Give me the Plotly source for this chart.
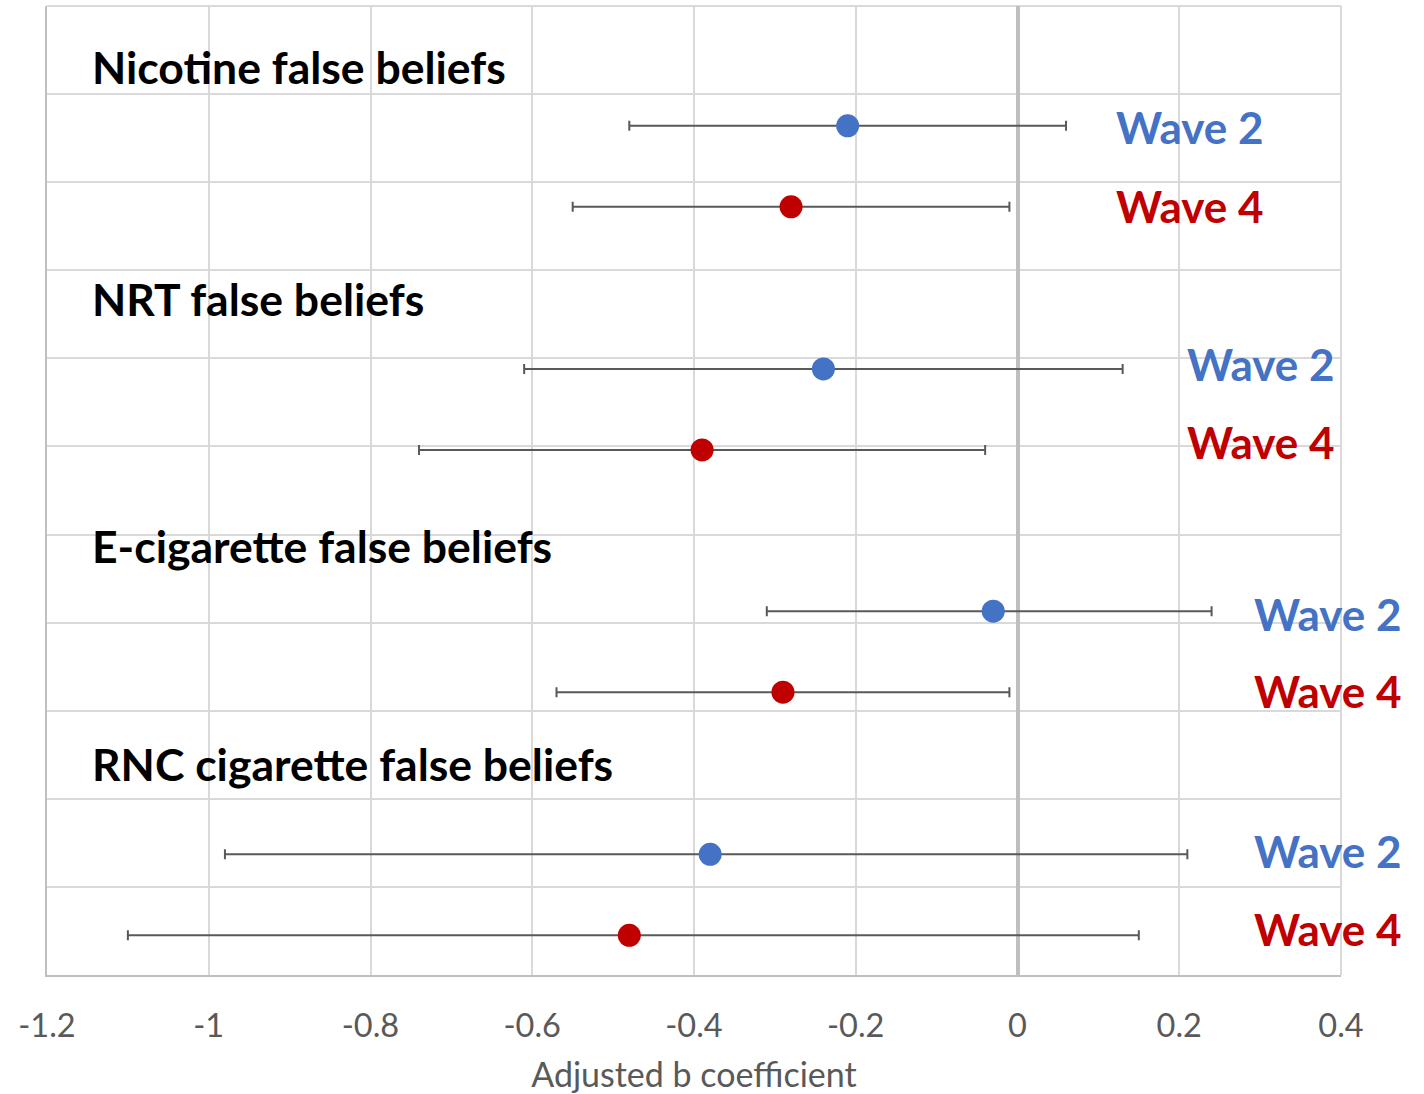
import plotly.graph_objects as go

# ---- data ----
categories = ["Nicotine false beliefs", "NRT false beliefs",
              "E-cigarette false beliefs", "RNC cigarette false beliefs"]
wave2_b = [-0.21, -0.24, -0.03, -0.38]
wave2_lo = [-0.48, -0.61, -0.31, -0.98]
wave2_hi = [0.06, 0.13, 0.24, 0.21]
wave4_b = [-0.28, -0.39, -0.29, -0.48]
wave4_lo = [-0.55, -0.74, -0.57, -1.10]
wave4_hi = [-0.01, -0.04, -0.01, 0.15]
wave2_y = [9.64, 6.88, 4.13, 1.37]
wave4_y = [8.72, 5.96, 3.21, 0.45]
cat_label_y = [10.31, 7.68, 4.88, 2.40]
wave_label_x = [0.119, 0.207, 0.290, 0.290]
wave2_label_y = [9.63, 6.94, 4.10, 1.41]
wave4_label_y = [8.73, 6.05, 3.22, 0.52]
x_ticks = [-1.2, -1, -0.8, -0.6, -0.4, -0.2, 0, 0.2, 0.4]
x_title = "Adjusted b coefficient"

BLUE = "#4472C4"
RED = "#C00000"
FONT = "Lato"

fig = go.Figure()

def add_series(b, lo, hi, y, color, name):
    fig.add_trace(go.Scatter(
        x=b, y=y, mode="markers", name=name,
        marker=dict(size=23, color=color),
        error_x=dict(type="data", symmetric=False,
                     array=[h - v for h, v in zip(hi, b)],
                     arrayminus=[v - l for l, v in zip(lo, b)],
                     color="#595959", thickness=2, width=5),
        cliponaxis=False,
        showlegend=False,
    ))

add_series(wave2_b, wave2_lo, wave2_hi, wave2_y, BLUE, "Wave 2")
add_series(wave4_b, wave4_lo, wave4_hi, wave4_y, RED, "Wave 4")

for name, yv in zip(categories, cat_label_y):
    fig.add_annotation(x=-1.147, y=yv, xref="x", yref="y", text=f"<b>{name}</b>",
                       showarrow=False, xanchor="left", yanchor="middle",
                       font=dict(family=FONT, size=44.5, color="black"))

for xv, y2, y4 in zip(wave_label_x, wave2_label_y, wave4_label_y):
    fig.add_annotation(x=xv, y=y2, xref="x", yref="y", text="<b>Wave 2</b>",
                       showarrow=False, xanchor="left", yanchor="middle",
                       font=dict(family=FONT, size=44, color=BLUE))
    fig.add_annotation(x=xv, y=y4, xref="x", yref="y", text="<b>Wave 4</b>",
                       showarrow=False, xanchor="left", yanchor="middle",
                       font=dict(family=FONT, size=44, color=RED))

# top and right plot-area border lines (same colour as gridlines)
fig.add_shape(type="line", xref="paper", yref="paper", x0=0, x1=1, y0=1, y1=1,
              line=dict(color="#D9D9D9", width=2), layer="below")
fig.add_shape(type="line", xref="paper", yref="paper", x0=1, x1=1, y0=0, y1=1,
              line=dict(color="#D9D9D9", width=2), layer="below")

fig.update_xaxes(range=[-1.2, 0.4], tickvals=x_ticks,
                 ticktext=[f"{t:g}" for t in x_ticks],
                 showgrid=True, gridcolor="#D9D9D9", gridwidth=2,
                 zeroline=True, zerolinecolor="#BFBFBF", zerolinewidth=4,
                 showline=True, linecolor="#BFBFBF", linewidth=2,
                 ticks="", ticklabelstandoff=21,
                 tickfont=dict(family=FONT, size=32.5, color="#595959"),
                 title=dict(text=x_title, standoff=20,
                            font=dict(family=FONT, size=34, color="#595959")))
fig.update_yaxes(range=[0, 11], dtick=1, tick0=0, showticklabels=False,
                 showgrid=True, gridcolor="#D9D9D9", gridwidth=2,
                 zeroline=False, showline=True, linecolor="#BFBFBF", linewidth=2,
                 ticks="")

fig.update_layout(
    width=1424, height=1094,
    margin=dict(l=47, r=83, t=6, b=119),
    plot_bgcolor="white", paper_bgcolor="white",
    font=dict(family=FONT),
)

fig.write_html("out.html")
